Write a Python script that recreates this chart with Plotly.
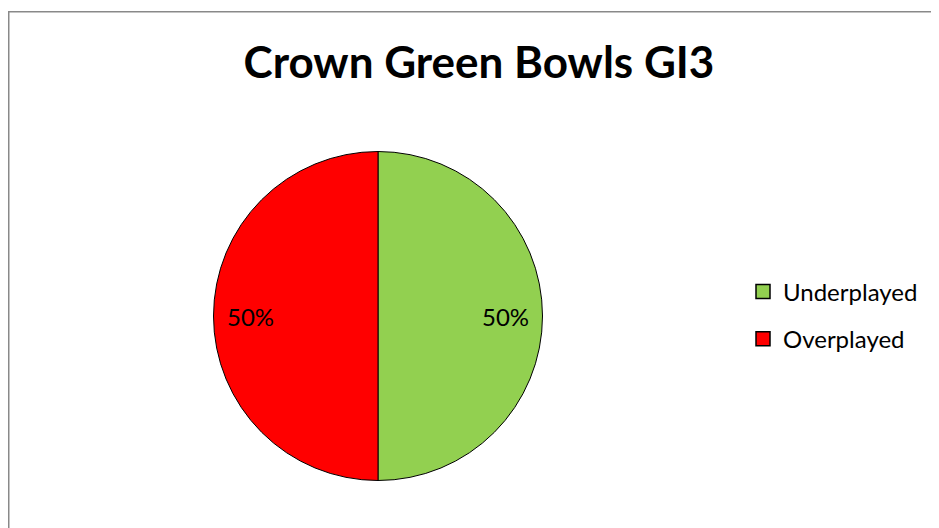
import plotly.graph_objects as go

title_text = "Crown Green Bowls GI3"
labels = ["Underplayed", "Overplayed"]
values = [50, 50]
colors = ["#92D050", "#FF0000"]

# page has an 8px body margin; figure coordinates are page - 8
W, H = 931, 520

pie_dom = dict(x=[205.5 / W, 534.5 / W], y=[(H - 473) / H, (H - 143) / H])

fig = go.Figure()
# filled pie
fig.add_trace(go.Pie(
    labels=labels,
    values=values,
    sort=False,
    direction="clockwise",
    rotation=0,
    marker=dict(colors=colors, line=dict(color="black", width=1)),
    textinfo="none",
    domain=pie_dom,
    showlegend=False,
    hoverinfo="label+percent",
))
# transparent ring carrying the percent labels near the rim
fig.add_trace(go.Pie(
    labels=labels,
    values=values,
    sort=False,
    direction="clockwise",
    rotation=0,
    hole=0.55,
    marker=dict(colors=["rgba(0,0,0,0)"] * len(values), line=dict(width=0)),
    textinfo="percent",
    textposition="inside",
    insidetextorientation="horizontal",
    texttemplate="%{percent:.0%}",
    textfont=dict(family="Lato", size=24, color="black"),
    domain=pie_dom,
    showlegend=False,
    hoverinfo="skip",
))
# legend entries
for lab, col in zip(labels, colors):
    fig.add_trace(go.Scatter(
        x=[None], y=[None],
        mode="markers",
        name=lab,
        legendgroup=lab,
        marker=dict(symbol="square", size=14, color=col, line=dict(color="black", width=1.5)),
        showlegend=True,
        hoverinfo="skip",
    ))

fig.update_layout(
    width=W,
    height=H,
    margin=dict(l=0, r=0, t=0, b=0),
    paper_bgcolor="white",
    plot_bgcolor="white",
    xaxis=dict(visible=False),
    yaxis=dict(visible=False),
    title=dict(
        text="<b>" + title_text + "</b>",
        x=471 / W,
        xanchor="center",
        y=1 - 55 / H,
        yanchor="middle",
        font=dict(family="Lato", size=44, color="black"),
    ),
    legend=dict(
        x=735 / W,
        xanchor="left",
        y=1 - 307.5 / H,
        yanchor="middle",
        font=dict(family="Lato", size=24, color="black"),
        itemsizing="trace",
        tracegroupgap=13,
        bgcolor="rgba(0,0,0,0)",
    ),
    shapes=[
        dict(
            type="rect",
            xref="paper",
            yref="paper",
            x0=0.75 / W,
            x1=1.05,
            y0=-0.05,
            y1=1 - 3.75 / H,
            line=dict(color="#898989", width=1.5),
            fillcolor="rgba(0,0,0,0)",
            layer="below",
        )
    ],
)

fig.write_html("out.html")
